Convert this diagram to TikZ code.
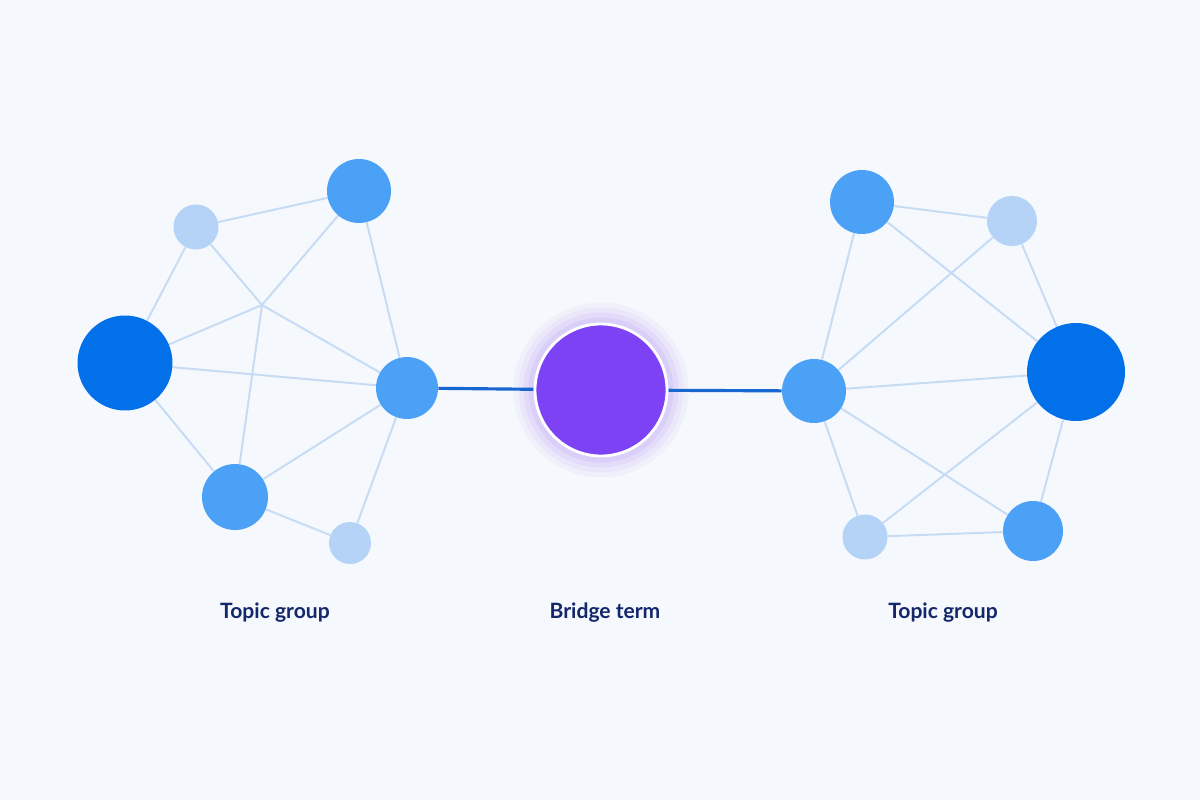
\documentclass[tikz,border=0pt]{standalone}
\usepackage{fontspec}
\setmainfont{Lato}
\usepackage{tikz}
\usetikzlibrary{backgrounds}
\definecolor{bgcol}{HTML}{F5F8FC}
\definecolor{darkhub}{HTML}{0270E8}
\definecolor{midnode}{HTML}{4BA1F5}
\definecolor{lightnode}{HTML}{B5D3F7}
\definecolor{linkcol}{HTML}{C6DBF4}
\definecolor{bridgecol}{HTML}{1866D0}
\definecolor{purplecol}{HTML}{7C42F4}
\definecolor{labelcol}{HTML}{14276A}

\begin{document}
\begin{tikzpicture}[x=0.02cm,y=-0.02cm,
    hub/.style={circle,fill=darkhub,minimum size=1.9cm,inner sep=0pt},
    mid/.style={circle,fill=midnode,minimum size=1.28cm,inner sep=0pt},
    small/.style={circle,fill=lightnode,minimum size=0.9cm,inner sep=0pt},
    link/.style={draw=linkcol,line width=1.1pt},
    bridge/.style={draw=bridgecol,line width=1.8pt},
    lbl/.style={text=labelcol,font=\bfseries\fontsize{12}{14}\selectfont}]
  % left topic group
  \node[hub] (l_a) at (125,363) {};
  \node[small] (l_b) at (196,227) {};
  \node[mid] (l_c) at (359,191) {};
  \node[mid,minimum size=1.24cm] (l_d) at (407,388) {};
  \node[mid,minimum size=1.32cm] (l_e) at (235,497) {};
  \node[small,minimum size=0.84cm] (l_f) at (350,543) {};
  \coordinate (l_x) at (262,305);
  % right topic group
  \node[mid] (r_g) at (862,202) {};
  \node[small,minimum size=1cm] (r_h) at (1012,221) {};
  \node[mid] (r_i) at (814,391) {};
  \node[hub,minimum size=1.96cm] (r_j) at (1076,372) {};
  \node[small] (r_k) at (865,537) {};
  \node[mid,minimum size=1.2cm] (r_l) at (1033,531) {};
  % bridge term
  \node[circle,fill=purplecol,draw=white,line width=1.6pt,minimum size=2.64cm,inner sep=0pt] (b_t) at (601,390) {};
  % labels
  \node[lbl] (t_l) at (275,613) {Topic group};
  \node[lbl] (t_b) at (605,613) {Bridge term};
  \node[lbl] (t_r) at (943,613) {Topic group};
  \begin{scope}[on background layer]
    \fill[bgcol] (0,0) rectangle (1200,800);
    \foreach \s/\o in {3.5/0.04,3.3/0.05,3.1/0.07,2.9/0.08}
      \fill[purplecol,opacity=\o] (b_t.center) circle (\s cm/2);
    \path[link]
      (l_b) edge (l_c) edge (l_a) edge (l_x)
      (l_c) edge (l_x) edge (l_d)
      (l_a) edge (l_x) edge (l_d) edge (l_e)
      (l_x) edge (l_d) edge (l_e)
      (l_e) edge (l_d) edge (l_f)
      (l_f) edge (l_d)
      (r_g) edge (r_h) edge (r_i) edge (r_j)
      (r_h) edge (r_i) edge (r_j)
      (r_i) edge (r_j) edge (r_l) edge (r_k)
      (r_k) edge (r_j) edge (r_l)
      (r_l) edge (r_j);
    \path[bridge] (l_d) edge (b_t) (b_t) edge (r_i);
  \end{scope}
\end{tikzpicture}
\end{document}
